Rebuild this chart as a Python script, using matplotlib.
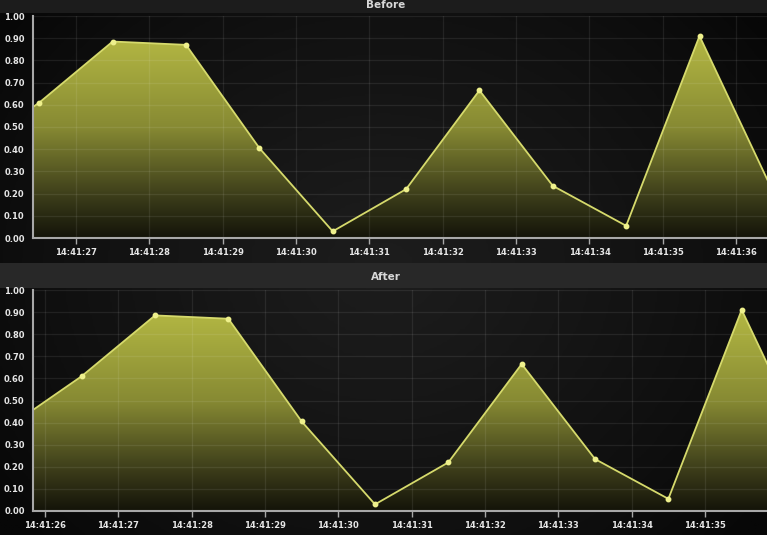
import numpy as np
import pandas as pd
import matplotlib
matplotlib.use('Agg')
import matplotlib.pyplot as plt
import matplotlib.dates as mdates
from matplotlib.colors import LinearSegmentedColormap
from matplotlib.patches import Rectangle

# sample times (one per second) and values
times = ['14:41:25.5', '14:41:26.5', '14:41:27.5', '14:41:28.5', '14:41:29.5', '14:41:30.5',
         '14:41:31.5', '14:41:32.5', '14:41:33.5', '14:41:34.5', '14:41:35.5', '14:41:36.5']
values = [0.38, 0.61, 0.885, 0.87, 0.405, 0.03, 0.22, 0.665, 0.235, 0.055, 0.91, 0.21]

panel_titles = ['Before', 'After']
# visible time window of each panel
windows = [('14:41:26.414', '14:41:36.42'),
           ('14:41:25.836', '14:41:35.845')]
y_ticks = [0.0, 0.1, 0.2, 0.3, 0.4, 0.5, 0.6, 0.7, 0.8, 0.9, 1.0]

plt.rcParams['font.family'] = ['Liberation Sans Narrow', 'DejaVu Sans']

W, H = 767, 535
fig = plt.figure(figsize=(W / 100, H / 100), dpi=100)
fig.patch.set_facecolor('#090909')

# background with soft radial glow
bg = fig.add_axes([0, 0, 1, 1], zorder=-10)
yy, xx = np.mgrid[0:1:200j, 0:1:300j]
r = np.sqrt(((xx - 0.5) / 0.62) ** 2 + ((yy - 0.5) / 0.75) ** 2)
glow = np.clip(1 - r, 0, 1) ** 0.8
bg.imshow(glow, cmap=LinearSegmentedColormap.from_list('bg', ['#070707', '#1d1d1d']),
          extent=[0, 1, 0, 1], aspect='auto', origin='lower')
bg.set_xlim(0, 1)
bg.set_ylim(0, 1)
bg.axis('off')

# title bands (pixel rows)
bands = [(0, 13, '#1c1c1c', 5), (263, 288, '#282828', 277)]
for (y0, y1, col, ty), title in zip(bands, panel_titles):
    fig.patches.append(Rectangle((0, 1 - y1 / H), 1, (y1 - y0) / H, transform=fig.transFigure,
                                 facecolor=col, edgecolor='none', zorder=-5))
    fig.text(0.503, 1 - ty / H, title, ha='center', va='center', color='#d8d8d8',
             fontsize=7.5, fontweight='bold')

fill_cmap = LinearSegmentedColormap.from_list(
    'fill', [(0.0, '#131309'), (0.2, '#3f401b'), (0.5, '#878a33'),
             (0.9, '#b3b743'), (1.0, '#c0c44a')])

ts = pd.to_datetime(['2024-01-01 ' + t for t in times])
x = mdates.date2num(ts.to_pydatetime())
vals = np.array(values)

# axes rectangles: (left px, top px of 1.00, bottom px of 0.00)
boxes = [(33, 16, 238), (33, 290, 511)]

for (left, top, bottom), (w0, w1) in zip(boxes, windows):
    ax = fig.add_axes([left / W, 1 - bottom / H, 1 - left / W, (bottom - top) / H])
    ax.set_facecolor('none')

    poly = ax.fill_between(x, vals, 0, facecolor='none', edgecolor='none')
    grad = np.linspace(0, 1, 256).reshape(-1, 1)
    im = ax.imshow(grad, cmap=fill_cmap, extent=[x[0], x[-1], 0, 1], aspect='auto',
                   origin='lower', zorder=1)
    im.set_clip_path(poly.get_paths()[0], transform=ax.transData)

    ax.plot(x, vals, color='#d6da6c', lw=1.3, zorder=3)
    ax.plot(x, vals, 'o', ms=3.2, color='#eef08c', zorder=4)

    xlo = mdates.date2num(pd.Timestamp('2024-01-01 ' + w0).to_pydatetime())
    xhi = mdates.date2num(pd.Timestamp('2024-01-01 ' + w1).to_pydatetime())
    ax.set_xlim(xlo, xhi)
    ax.set_ylim(0, 1.0)

    ax.xaxis.set_major_locator(mdates.SecondLocator())
    ax.xaxis.set_major_formatter(mdates.DateFormatter('%H:%M:%S'))
    ax.set_yticks(y_ticks)
    ax.set_yticklabels([f'{v:.2f}' for v in y_ticks])

    ax.grid(True, color='#ffffff', alpha=0.08, lw=0.9, zorder=2)
    ax.set_axisbelow(False)
    for s in ('top', 'right'):
        ax.spines[s].set_visible(False)
    for s in ('left', 'bottom'):
        ax.spines[s].set_color('#a8a8a8')
        ax.spines[s].set_linewidth(1.5)
        ax.spines[s].set_zorder(5)

    ax.tick_params(axis='x', colors='#a8a8a8', length=4, width=1, pad=3,
                   labelcolor='#e6e6e6', labelsize=6)
    ax.tick_params(axis='y', colors='#a8a8a8', length=0, pad=6,
                   labelcolor='#e6e6e6', labelsize=6)
    for lab in ax.get_xticklabels() + ax.get_yticklabels():
        lab.set_fontweight('bold')

fig.savefig('out.png', dpi=100, facecolor=fig.get_facecolor())
